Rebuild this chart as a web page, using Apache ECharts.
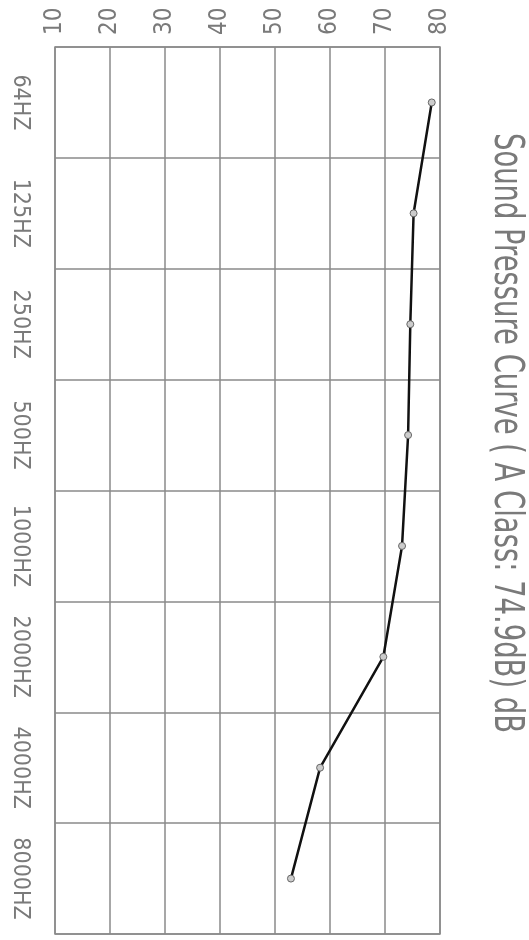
<!DOCTYPE html>
<html><head><meta charset="utf-8">
<script src="https://cdn.jsdelivr.net/npm/echarts@6/dist/echarts.min.js"></script>
<style>html,body{margin:0;padding:0;background:#fff}#c{width:529px;height:940px}</style>
</head><body><div id="c"></div>
<script>
const categories = ['64HZ', '125HZ', '250HZ', '500HZ', '1000HZ', '2000HZ', '4000HZ', '8000HZ'];
const levels = [78.5, 75.2, 74.6, 74.2, 73.1, 69.7, 58.2, 52.9];
const valueMin = 10, valueMax = 80, valueStep = 10;
const titleText = 'Sound Pressure Curve ( A Class: 74.9dB) dB';

const font = "'DejaVu Sans Condensed', 'Liberation Sans Narrow', 'DejaVu Sans', sans-serif";
const gridColor = '#8a8a8a';
const textColor = '#7a7a7a';

// horizontal condensing of the title so it spans the same length as in the reference
const titleSize = 40;
const titleLength = 600;
const mctx = document.createElement('canvas').getContext('2d');
mctx.font = titleSize + 'px ' + font;
const titleScaleX = titleLength / mctx.measureText(titleText).width;

const chart = echarts.init(document.getElementById('c'));
chart.setOption({
  animation: false,
  backgroundColor: '#fff',
  grid: { left: 55, right: 89, top: 47, bottom: 6, show: true, borderColor: gridColor, borderWidth: 1.5 },
  xAxis: {
    type: 'value', position: 'top', min: valueMin, max: valueMax, interval: valueStep,
    axisLine: { show: false }, axisTick: { show: false },
    splitLine: { show: true, lineStyle: { color: gridColor, width: 1.5 } },
    axisLabel: { rotate: -90, margin: 12, color: textColor, fontFamily: font, fontSize: 24 }
  },
  yAxis: {
    type: 'category', data: categories, inverse: true, position: 'left',
    axisLine: { show: false }, axisTick: { show: false },
    splitLine: { show: true, interval: 0, lineStyle: { color: gridColor, width: 1.5 } },
    axisLabel: { rotate: -90, margin: 24, interval: 0, color: textColor, fontFamily: font, fontSize: 23 }
  },
  series: [{
    type: 'line',
    data: levels.map((v, i) => [v, categories[i]]),
    symbol: 'circle', symbolSize: 7,
    lineStyle: { color: '#111', width: 2.5 },
    itemStyle: { color: '#ccc', borderColor: '#666', borderWidth: 1 }
  }],
  graphic: [{
    type: 'text', x: 505, y: 133, rotation: -Math.PI / 2, scaleX: titleScaleX, scaleY: 1,
    style: {
      text: titleText, fontSize: titleSize, fontFamily: font, fill: textColor,
      align: 'left', verticalAlign: 'middle', textAlign: 'left', textVerticalAlign: 'middle'
    }
  }]
});
</script></body></html>
